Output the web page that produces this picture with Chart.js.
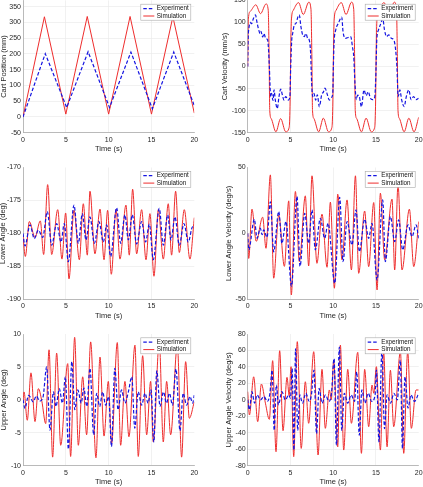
<!DOCTYPE html>
<html>
<head>
<meta charset="utf-8">
<script src="https://cdn.jsdelivr.net/npm/chart.js@4.4.1/dist/chart.umd.min.js"></script>
<style>
  html, body { margin: 0; padding: 0; background: #fff; width: 423px; height: 487px; overflow: hidden; position: relative; }
  canvas { position: absolute; }
</style>
</head>
<body>
<canvas id="c1"></canvas>
<canvas id="c2"></canvas>
<canvas id="c3"></canvas>
<canvas id="c4"></canvas>
<canvas id="c5"></canvas>
<canvas id="c6"></canvas>
<script>
// cart position (mm)
const posSimT = [0, 2.5, 5, 7.5, 10, 12.5, 15, 17.5, 20];
const posSimY = [0, 318, 9, 319, 9, 319, 9, 318, 12];
const posExpT = [0, 2.6, 5.1, 7.6, 10.1, 12.6, 15.1, 17.6, 20];
const posExpY = [0, 201, 30, 207, 30, 206, 26, 206, 36];

// cart velocity (mm/s)
const velSimT = [0,0.08,0.3,0.95,1.5,2.15,2.4,2.5,2.58,2.75, 3.3,3.85,4.45,4.85,4.95,5.05,5.12,5.35,5.95,6.5,
  7.15,7.4,7.5,7.58,7.75,8.3,8.85,9.45,9.85,9.95, 10.05,10.12,10.35,10.95,11.5,12.15,12.4,12.5,12.58,12.75,
  13.3,13.85,14.45,14.85,14.95,15.05,15.12,15.35,15.95,16.5, 17.15,17.4,17.5,17.58,17.75,18.3,18.85,19.45,20];
const velSimY = [0,108,125,140,120,142,128,30,-100,-118, -148,-118,-148,-138,-90,60,108,128,145,118,
  146,130,30,-100,-118,-148,-117,-148,-138,-90, 60,108,128,145,118,146,130,30,-100,-118,
  -148,-117,-148,-138,-90,60,108,128,145,118, 146,130,30,-100,-118,-148,-117,-148,-115];
const velExpT = [0,0.05,0.15,0.3,0.45,0.65,0.92,1.05,1.25,1.45, 1.55,1.75,1.9,2.1,2.33,2.44,2.53,2.69,2.8,2.95,
  3.08,3.23,3.46,3.66,3.86,4.05,4.24,4.44,4.6,4.75, 4.94,5.03,5.15,5.26,5.45,5.65,5.88,6.03,6.23,6.42,
  6.62,6.81,7.01,7.2,7.36,7.48,7.6,7.75,7.95,8.14, 8.38,8.65,8.85,9.04,9.32,9.55,9.8,9.95,10.02,10.1,
  10.3,10.6,11.0,11.15,11.45,11.75,12.05,12.25,12.4,12.55, 12.7,12.85,13.05,13.3,13.6,13.85,14.1,14.35,14.6,14.85,
  14.97,15.1,15.3,15.5,15.8,16.0,16.25,16.5,16.8,17.1, 17.3,17.45,17.6,17.8,18.0,18.3,18.55,18.85,19.1,19.4,
  19.7,20];
const velExpY = [0,60,88,100,97,108,117,104,86,75, 80,67,75,64,60,37,0,-68,-61,-77,
  -53,-76,-95,-68,-51,-64,-76,-68,-72,-76, -68,0,60,75,94,98,113,117,90,72,
  68,75,64,60,30,-38,-68,-61,-76,-64, -91,-64,-58,-49,-64,-76,-70,-60,0,53,
  83,98,112,79,64,66,68,45,23,-40, -75,-65,-68,-91,-53,-66,-57,-72,-75,-70,
  -30,60,83,94,108,83,68,72,64,60, 38,0,-68,-53,-75,-91,-68,-53,-75,-68,
  -75,-72];

// lower angle (deg)
const lowSimT = [0,0.27,0.74,1.4,2.02,2.41,2.88,3.35,4.05,4.55, 4.98,5.37,5.95,6.58,7.04,7.51,7.82,8.4,8.99,9.46,
  9.88,10.31,10.86,11.32,12.02,12.41,12.8,13.27,13.85,14.36, 14.82,15.29,15.8,16.38,16.96,17.35,17.82,18.25,18.83,19.49, 20];
const lowSimY = [-180.3,-183.5,-178.2,-180.6,-178.1,-183.2,-172.6,-183.2,-176.4,-183.9, -176.9,-186.9,-176.5,-184.0,-175.5,-183.3,-173.6,-183.1,-176.3,-184.0,
  -176.5,-186.2,-176.4,-183.9,-175.7,-183.3,-173.3,-183.1,-176.4,-184.0, -177.0,-186.5,-176.4,-183.9,-175.5,-183.3,-173.6,-182.9,-176.4,-183.9, -177.6];
const lowExpT = [0,0.23,0.82,1.32,1.79,2.3,2.84,3.35,3.93,4.44, 4.82,5.29,5.95,6.46,6.93,7.35,7.82,8.33,8.87,9.38,
  9.77,10.23,10.93,11.4,11.9,12.3,12.76,13.27,13.85,14.32, 14.75,15.21,15.91,16.38,16.89,17.28,17.74,18.25,18.79,19.3, 19.8,20];
const lowExpY = [-180,-181.9,-178.7,-180.8,-179.5,-180.6,-176.7,-181.8,-178.5,-181.3, -178.5,-184.3,-175.7,-181.5,-177,-181,-177.5,-181.5,-178.2,-181.3,
  -178.7,-183.5,-176.1,-181.5,-177.2,-181,-177.2,-181.6,-178.2,-181.3, -178.6,-184,-176.2,-181.8,-177.2,-181,-177.5,-181.8,-178.5,-181.3, -179,-179.2];

// lower angle velocity (deg/s)
const lowVelSimT = [0,0.12,0.5,1.0,1.75,2.14,2.65,3.04,3.63,4.29, 4.8,5.1,5.58,6.04,6.74,7.13,7.52,8.1,8.69,9.28,
  9.67,10.14,10.53,11.03,11.62,12.13,12.6,12.98,13.68,14.15, 14.74,15.13,15.52,16.02,16.88,17.19,17.58,18.05,18.91,19.42, 20];
const lowVelSimY = [0,-19,18.4,-6,12.3,-11.3,44.4,-34,14,-25, 24.7,-46.7,31.8,-21.4,28.5,-24.7,43.7,-22.7,14.6,-25.7,
  23.7,-41.6,29.7,-20,25.4,-27.7,43.7,-30.3,17,-25.2, 23.4,-42.9,30.5,-20,26,-27.7,36.8,-27.7,18.4,-25.2, 9];
const lowVelExpT = [0,0.12,0.78,1.09,1.48,1.68,1.87,2.26,2.65,3.04, 3.63,4.0,4.48,5.12,5.77,6.12,6.67,7.13,7.52,7.91,
  8.5,9.0,9.4,10.18,10.76,11.15,11.62,12.2,12.67,13.06, 13.68,14.15,14.54,15.13,15.79,16.1,16.69,17.19,17.66,18.13,
  18.75,19.22,19.69,20];
const lowVelExpY = [0,-12.5,10.7,-3.7,4,-1,2.7,-3,24,-14, 16.6,-7.5,9,-40,28,-25,15.3,-7.5,17.8,-12.5,
  11.5,-3.7,7.7,-37.8,27.4,-21.4,9,-8.7,17.8,-13.8, 10.7,-3.7,7.7,-35.3,25.4,-21.4,12.8,-6.2,10.2,-12.5,
  6.5,-2.4,6.5,-3.7];

// upper angle (deg)
const upSimT = [0,0.12,0.5,0.93,1.4,1.79,2.2,2.65,3.04,3.46, 3.93,4.4,5.22,5.56,6.03,6.46,6.97,7.43,7.9,8.52,
  8.99,9.46,9.96,10.35,11.01,11.4,11.9,12.37,13.07,13.46, 13.97,14.44,14.9,15.21,15.91,16.38,16.77,17.24,18.02,18.52,
  18.99,19.42,20];
const upSimY = [-0.3,1.2,-3.1,4.1,-3.3,1.7,-0.2,-3.6,7.6,-8.7, 7.1,-6.9,5.5,-8.6,9.5,-6.9,3.5,-5.3,8.8,-8.8,
  6.5,-5.5,2.8,-6.6,8.7,-6.9,2.8,-5.6,8.3,-8.6, 6.7,-5.3,2.8,-6.4,8.8,-6.4,2.8,-5.3,8.3,-8.7,
  5.8,-2.8,-0.3];
const upExpT = [0,0.23,0.65,1.2,1.55,1.95,2.35,2.76,3.15,3.55, 3.85,4.24,4.6,4.95,5.3,5.7,6.05,6.4,6.8,7.1,
  7.45,7.82,8.25,8.6,8.95,9.3,9.65,10.0,10.33,10.72, 11.1,11.5,11.9,12.3,12.7,13.05,13.45,13.85,14.25,14.6,
  14.95,15.27,15.62,16.0,16.4,16.75,17.1,17.45,17.86,18.33, 18.7,19.1,19.5,19.8,20];
const upExpY = [0,-1.3,0.7,-0.3,0.6,-0.2,0.5,5.0,-4.6,1.2, -1.0,1.7,-0.5,3.5,-7.5,5.8,-1.5,1.5,-0.5,1.8,
  -1.0,4.8,-5.3,1.0,-1.0,1.2,-0.8,0.5,-7.1,4.8, -1.5,1.5,-0.5,1.2,3.5,-4.3,1.2,-0.8,1.0,-0.5,
  1.5,-6.4,4.4,-1.0,1.2,-0.5,1.0,-0.8,4.7,-4.7, 1.0,-0.8,0.5,-0.5,0.7];

// upper angle velocity (deg/s)
const upVelSimT = [0,0.2,0.7,1.17,1.6,2.07,2.53,2.92,3.31,3.74, 4.13,4.6,4.85,5.07,5.38,5.8,6.26,6.74,7.13,7.72,
  8.23,8.69,9.08,9.55,9.78,10.06,10.53,10.84,11.23,11.7, 12.13,12.87,13.3,13.68,14.15,14.54,14.75,15.05,15.52,15.9,
  16.3,16.69,17.08,17.86,18.25,18.71,19.14,19.69,20];
const upVelSimY = [10,-18.4,28,-26.5,19.2,-4,-23.7,47.6,-63,59.7, -37.5,27.3,5,40.3,-69,70.7,-59,22,-28.5,58.5,
  -67,37,-34.6,12,0,48.4,-57,66.6,-61,37, -28.5,57.7,-65,37,-32.6,18,8,40.3,-61,58.5,
  -57,36,-32.6,58.5,-65,58.5,-34.6,12,12];
const upVelExpT = [0,0.2,0.5,0.8,1.1,1.5,1.9,2.3,2.6,2.85, 3.1,3.35,3.6,4.0,4.4,4.8,5.0,5.2,5.4,5.6,
  5.85,6.1,6.4,6.8,7.2,7.45,7.75,8.05,8.35,8.7, 9.1,9.5,9.8,10.1,10.38,10.72,11.0,11.3,11.7,12.1,
  12.5,12.75,13.05,13.35,13.7,14.1,14.5,14.9,15.05,15.35, 15.7,16.0,16.3,16.7,17.1,17.5,17.85,18.1,18.4,18.75,
  19.1,19.5,20];
const upVelExpY = [0,-12,10,-4,6,0,4,-2,8,36, -37,18,-6,10,0,6,2,38,-61,62,
  -37,6,-4,8,-2,6,36,-41,14,-4, 6,-2,8,50,-55,64,-37,8,-4,6,
  -2,34,-43,12,-4,8,-2,6,36,-51, 60,-35,6,-4,8,0,48,-59,28,-10,
  6,-2,8];

const FONT = '"Liberation Sans", Arial, Helvetica, sans-serif';
const INK = '#262626';
const EXP_COLOR = 'rgb(20,20,225)';
const SIM_COLOR = 'rgb(238,45,45)';

function pts(t, y) {
  return t.map((v, i) => ({ x: v, y: y[i] }));
}

// legend drawn inside the plot, top right
const insideLegend = {
  id: 'insideLegend',
  afterDraw(chart) {
    const ctx = chart.ctx, a = chart.chartArea;
    const w = 50, h = 16;
    const x = a.right - 3.5 - w, y = a.top + 3.8;
    ctx.save();
    ctx.fillStyle = '#fff';
    ctx.fillRect(x, y, w, h);
    ctx.strokeStyle = '#a8a8a8';
    ctx.lineWidth = 0.6;
    ctx.strokeRect(x, y, w, h);
    ctx.font = '6.3px ' + FONT;
    ctx.textBaseline = 'middle';
    chart.data.datasets.forEach((ds, i) => {
      const ry = y + 4.4 + i * 7.4;
      ctx.strokeStyle = ds.borderColor;
      ctx.lineWidth = ds.borderWidth;
      ctx.setLineDash(ds.borderDash || []);
      ctx.beginPath();
      ctx.moveTo(x + 2.5, ry);
      ctx.lineTo(x + 13.5, ry);
      ctx.stroke();
      ctx.setLineDash([]);
      ctx.fillStyle = '#111';
      ctx.fillText(ds.label, x + 16, ry);
    });
    ctx.restore();
  }
};

function panel(id, geo, yTitle, yMin, yMax, yStep, expT, expY, simT, simY, smooth) {
  const cv = document.getElementById(id);
  const cl = Math.floor(geo.tx - 4.5);
  const ct = Math.floor(geo.T - 8);
  const W = Math.ceil(geo.R - cl + 8);
  const H = Math.ceil(geo.B - ct + 22);
  cv.width = W; cv.height = H;
  cv.style.left = cl + 'px'; cv.style.top = ct + 'px';
  const yW = geo.L - cl;
  const interp = smooth ? { cubicInterpolationMode: 'monotone' } : { tension: 0 };

  new Chart(cv, {
    type: 'line',
    data: {
      datasets: [
        Object.assign({ label: 'Experiment', data: pts(expT, expY), borderColor: EXP_COLOR, borderWidth: 1.2,
          borderDash: [3.5, 2], pointRadius: 0, fill: false }, interp),
        Object.assign({ label: 'Simulation', data: pts(simT, simY), borderColor: SIM_COLOR, borderWidth: 1,
          pointRadius: 0, fill: false }, interp)
      ]
    },
    options: {
      responsive: false,
      animation: false,
      devicePixelRatio: 1,
      layout: { padding: { left: 0, top: geo.T - ct, right: W - (geo.R - cl), bottom: H - (geo.B - ct) - 21 } },
      plugins: { legend: { display: false }, tooltip: { enabled: false } },
      scales: {
        x: {
          type: 'linear', min: 0, max: 20,
          afterFit: s => { s.height = 21; },
          ticks: { stepSize: 5, padding: 3, maxRotation: 0, color: INK, font: { family: FONT, size: 7 } },
          grid: { drawTicks: false, lineWidth: 0.7,
            color: c => (c.tick && (c.tick.value === 0 || c.tick.value === 20)) ? 'rgba(0,0,0,0)' : '#ebebeb' },
          border: { color: '#a8a8a8', width: 0.8 },
          title: { display: true, text: 'Time (s)', color: INK, padding: 0,
            font: { family: FONT, size: 7.5, lineHeight: 1.2 } }
        },
        y: {
          min: yMin, max: yMax,
          afterFit: s => { s.width = yW; },
          ticks: { stepSize: yStep, includeBounds: false, padding: 2, color: INK, font: { family: FONT, size: 7 } },
          grid: { drawTicks: false, lineWidth: 0.7,
            color: c => (c.tick && (c.tick.value === yMin || c.tick.value === yMax)) ? 'rgba(0,0,0,0)' : '#ebebeb' },
          border: { color: '#a8a8a8', width: 0.8 },
          title: { display: true, text: yTitle, color: INK, padding: { top: geo.tx - 4.5 - cl, bottom: 0 },
            font: { family: FONT, size: 7.5, lineHeight: 1.2 } }
        }
      }
    },
    plugins: [insideLegend]
  });
}

const LEFT = { L: 23, R: 194.3 }, RIGHT = { L: 247.7, R: 418.7 };
const ROW1 = { T: 0.4, B: 132.7 }, ROW2 = { T: 167.5, B: 299.3 }, ROW3 = { T: 334, B: 465.7 };

panel('c1', Object.assign({ tx: 4 }, LEFT, ROW1), 'Cart Position (mm)', -50, 370, 50,
  posExpT, posExpY, posSimT, posSimY, false);
panel('c2', Object.assign({ tx: 225.3 }, RIGHT, ROW1), 'Cart Velocity (mm/s)', -150, 150, 50,
  velExpT, velExpY, velSimT, velSimY, true);
panel('c3', Object.assign({ tx: 2.7 }, LEFT, ROW2), 'Lower Angle (deg)', -190, -170, 5,
  lowExpT, lowExpY, lowSimT, lowSimY, true);
panel('c4', Object.assign({ tx: 229.3 }, RIGHT, ROW2), 'Lower Angle Velocity (deg/s)', -50, 50, 50,
  lowVelExpT, lowVelExpY, lowVelSimT, lowVelSimY, true);
panel('c5', Object.assign({ tx: 4 }, LEFT, ROW3), 'Upper Angle (deg)', -10, 10, 5,
  upExpT, upExpY, upSimT, upSimY, true);
panel('c6', Object.assign({ tx: 229.3 }, RIGHT, ROW3), 'Upper Angle Velocity (deg/s)', -80, 80, 20,
  upVelExpT, upVelExpY, upVelSimT, upVelSimY, true);
</script>
</body>
</html>
